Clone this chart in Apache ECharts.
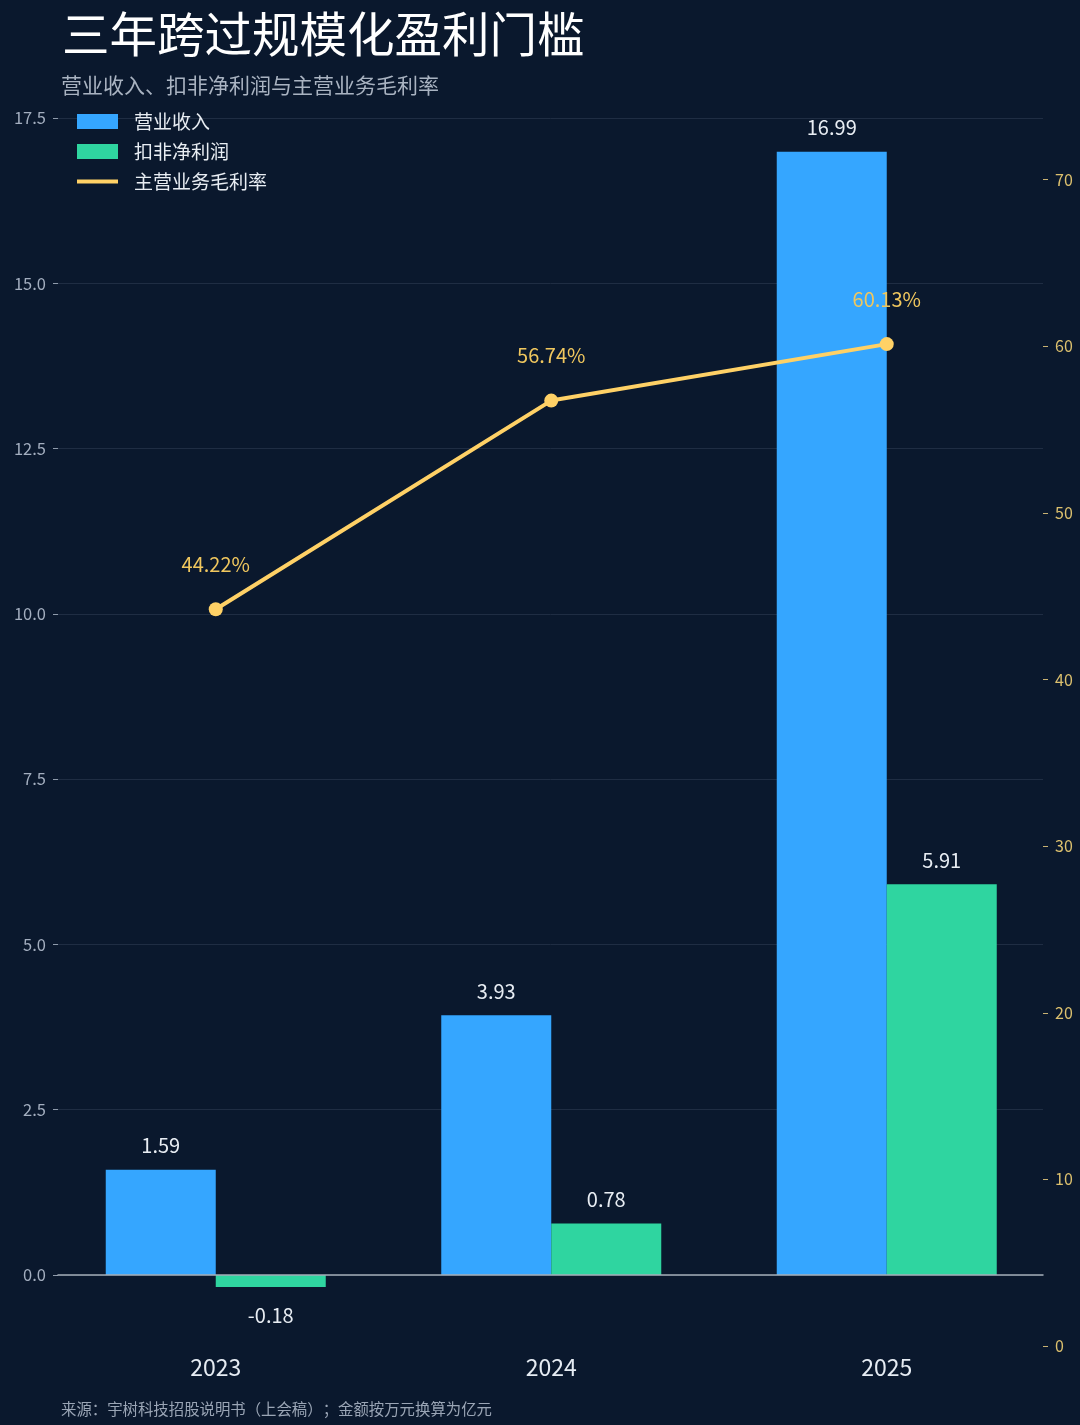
<!DOCTYPE html>
<html>
<head>
<meta charset="utf-8">
<style>
  html, body { margin: 0; padding: 0; background: #0a182d; }
  #chart { width: 1080px; height: 1425px; }
</style>
<script src="https://cdn.jsdelivr.net/npm/echarts@6/dist/echarts.min.js"></script>
</head>
<body>
<div id="chart"></div>
<script>
const years = ['2023', '2024', '2025'];
const revenue = [1.59, 3.93, 16.99];
const netProfit = [-0.18, 0.78, 5.91];
const grossMargin = [44.22, 56.74, 60.13];
const leftTicks = [0, 2.5, 5, 7.5, 10, 12.5, 15, 17.5];
const rightTicks = [0, 10, 20, 30, 40, 50, 60, 70];

const FONT = '"Noto Sans CJK SC", "Noto Sans", sans-serif';
const BLUE = '#35a6ff';
const GREEN = '#2fd5a0';
const YELLOW = '#ffd166';

const chart = echarts.init(document.getElementById('chart'), null, { renderer: 'canvas' });

const option = {
  backgroundColor: '#0a182d',
  textStyle: { fontFamily: FONT },
  animation: false,
  title: [
    { text: '三年跨过规模化盈利门槛', left: 62, top: 10, padding: 0,
      textStyle: { color: '#ffffff', fontSize: 47.5, fontWeight: 'normal', fontFamily: FONT } },
    { text: '营业收入、扣非净利润与主营业务毛利率', left: 61, top: 75, padding: 0,
      textStyle: { color: '#a9b3c1', fontSize: 21, fontWeight: 'normal', fontFamily: FONT } },
    { text: '来源：宇树科技招股说明书（上会稿）；金额按万元换算为亿元', left: 61, top: 1401, padding: 0,
      textStyle: { color: '#9aa5b5', fontSize: 15.4, fontWeight: 'normal', fontFamily: FONT } }
  ],
  legend: {
    orient: 'vertical',
    left: 77,
    top: 112,
    padding: 0,
    itemWidth: 41,
    itemHeight: 15,
    itemGap: 11,
    itemStyle: { borderWidth: 0 },
    textStyle: { color: '#e8edf3', fontSize: 19, fontFamily: FONT, padding: [0, 0, 0, 11] },
    data: [
      { name: '营业收入', icon: 'rect' },
      { name: '扣非净利润', icon: 'rect' },
      { name: '主营业务毛利率', icon: 'path://M0,0 M0,5.5 L41,5.5 L41,9.5 L0,9.5 Z M41,15' }
    ]
  },
  grid: [
    { left: 48, right: 25.5, top: 118, bottom: 79 },
    { left: 58, right: 37, top: 118, bottom: 150 }
  ],
  xAxis: [
    {
      type: 'category', gridIndex: 0, data: years,
      axisLine: { show: false }, axisTick: { show: false },
      axisLabel: { color: '#e6ecf3', fontSize: 23, margin: 10, fontFamily: FONT },
      splitLine: { show: false }
    },
    {
      type: 'value', gridIndex: 1, min: 0, max: 1, z: 5,
      axisLine: { show: true, lineStyle: { color: '#a4adb8', width: 1.5 } },
      axisTick: { show: false }, axisLabel: { show: false }, splitLine: { show: false }
    }
  ],
  yAxis: [
    { type: 'value', gridIndex: 0, min: -1.074, max: leftTicks[leftTicks.length - 1], show: false },
    {
      type: 'value', gridIndex: 0, position: 'right', offset: -11.5,
      min: 0, max: 73.7,
      axisLine: { show: false },
      axisTick: { show: true, length: 5, customValues: rightTicks, lineStyle: { color: '#c9b273' } },
      axisLabel: { show: true, customValues: rightTicks, color: '#dcc06e', fontSize: 16, margin: 12, fontFamily: FONT },
      splitLine: { show: false }
    },
    {
      type: 'value', gridIndex: 1, min: leftTicks[0], max: leftTicks[leftTicks.length - 1], interval: 2.5,
      axisLine: { show: false },
      axisTick: { show: true, length: 5, lineStyle: { color: '#8f9bab' } },
      axisLabel: { color: '#a3aebf', fontSize: 16.5, margin: 12, fontFamily: FONT,
        formatter: v => v.toFixed(1) },
      splitLine: { show: true, lineStyle: { color: '#1f2d43', width: 1 } }
    }
  ],
  series: [
    {
      name: '营业收入', type: 'bar', xAxisIndex: 0, yAxisIndex: 0,
      data: revenue, barWidth: 110, barGap: '0%',
      itemStyle: { color: BLUE },
      label: { show: true, position: 'top', distance: 14, color: '#e8edf3', fontSize: 20, fontFamily: FONT,
        formatter: p => p.value.toFixed(2) }
    },
    {
      name: '扣非净利润', type: 'bar', xAxisIndex: 0, yAxisIndex: 0,
      data: netProfit.map(v => v < 0 ? { value: v, label: { position: 'bottom', distance: 19 } } : v),
      barWidth: 110, barGap: '0%',
      itemStyle: { color: GREEN },
      label: { show: true, position: 'top', distance: 14, color: '#e8edf3', fontSize: 20, fontFamily: FONT,
        formatter: p => p.value.toFixed(2) }
    },
    {
      name: '主营业务毛利率', type: 'line', xAxisIndex: 0, yAxisIndex: 1,
      data: grossMargin, z: 4,
      symbol: 'circle', symbolSize: 14,
      lineStyle: { color: YELLOW, width: 4 },
      itemStyle: { color: YELLOW, borderWidth: 0 },
      label: { show: true, position: 'top', distance: 28, color: '#f0c75e', fontSize: 20, fontFamily: FONT,
        formatter: p => p.value.toFixed(2) + '%' }
    }
  ]
};

chart.setOption(option);
</script>
</body>
</html>
